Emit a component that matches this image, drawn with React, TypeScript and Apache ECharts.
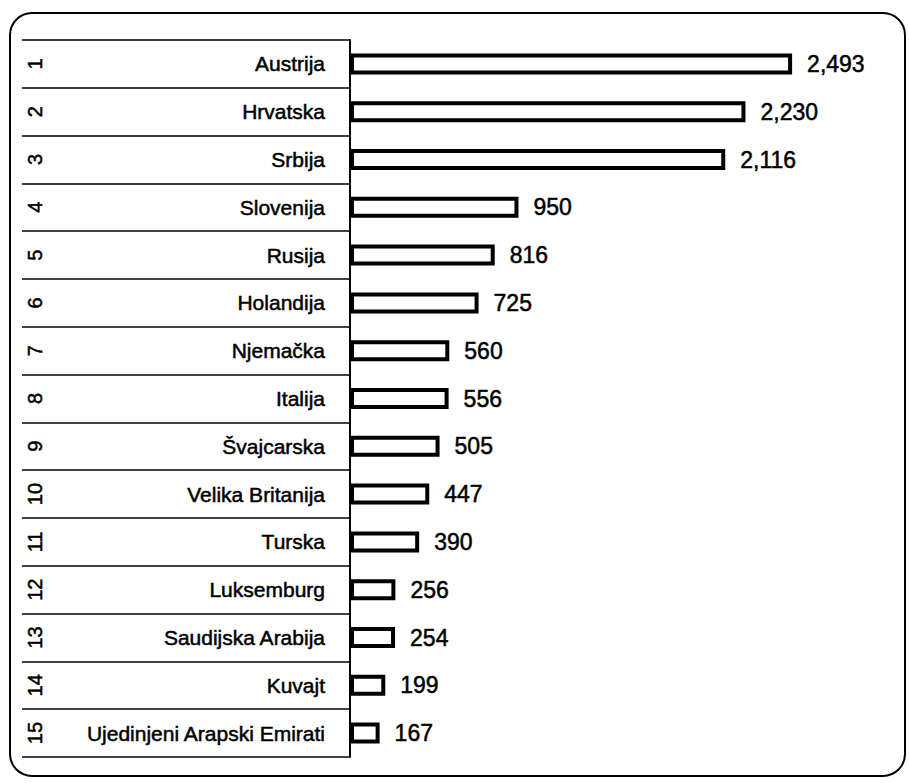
import React, { useEffect, useRef } from "react";
import * as echarts from "echarts";

const ranks = ["1", "2", "3", "4", "5", "6", "7", "8", "9", "10", "11", "12", "13", "14", "15"];
const countries = [
  "Austrija",
  "Hrvatska",
  "Srbija",
  "Slovenija",
  "Rusija",
  "Holandija",
  "Njemačka",
  "Italija",
  "Švajcarska",
  "Velika Britanija",
  "Turska",
  "Luksemburg",
  "Saudijska Arabija",
  "Kuvajt",
  "Ujedinjeni Arapski Emirati",
];
const values = [2493, 2230, 2116, 950, 816, 725, 560, 556, 505, 447, 390, 256, 254, 199, 167];

const FONT = "'Liberation Sans', Arial, sans-serif";

export default function App() {
  const ref = useRef<HTMLDivElement>(null);
  useEffect(() => {
    document.body.style.margin = "0";
    const chart = echarts.init(ref.current!, null, { renderer: "svg" });
    chart.setOption({
      animation: false,
      backgroundColor: "#fff",
      graphic: [
        {
          type: "rect",
          shape: { x: 10, y: 13, width: 895, height: 763, r: 22 },
          style: { fill: "none", stroke: "#000", lineWidth: 2 },
          silent: true,
        },
      ],
      grid: { left: 350, top: 40, width: 532, height: 717 },
      xAxis: {
        type: "value",
        min: 0,
        max: 3000,
        show: false,
      },
      yAxis: [
        {
          type: "category",
          data: countries,
          inverse: true,
          position: "left",
          axisLine: { show: true, lineStyle: { color: "#000", width: 2 } },
          axisTick: { show: true, length: 328, lineStyle: { color: "#000", width: 1.5 } },
          axisLabel: {
            color: "#000",
            fontSize: 21,
            fontFamily: FONT,
            margin: 25,
            textBorderColor: "#000",
            textBorderWidth: 0.5,
          },
        },
        {
          type: "category",
          data: ranks,
          inverse: true,
          position: "left",
          offset: 305,
          axisLine: { show: false },
          axisTick: { show: false },
          axisLabel: {
            color: "#000",
            fontSize: 20,
            fontFamily: FONT,
            rotate: 90,
            margin: 0,
            textBorderColor: "#000",
            textBorderWidth: 0.5,
          },
        },
      ],
      series: [
        {
          type: "bar",
          data: values,
          yAxisIndex: 0,
          barWidth: 21,
          itemStyle: { color: "#fff", borderColor: "#000", borderWidth: 4 },
          label: {
            show: true,
            position: "right",
            distance: 15,
            color: "#000",
            fontSize: 23,
            fontFamily: FONT,
            textBorderColor: "#000",
            textBorderWidth: 0.5,
            formatter: (p: any) => Number(p.value).toLocaleString("en-US"),
          },
        },
      ],
    });
    return () => chart.dispose();
  }, []);
  return <div ref={ref} style={{ width: 909, height: 783 }} />;
}
